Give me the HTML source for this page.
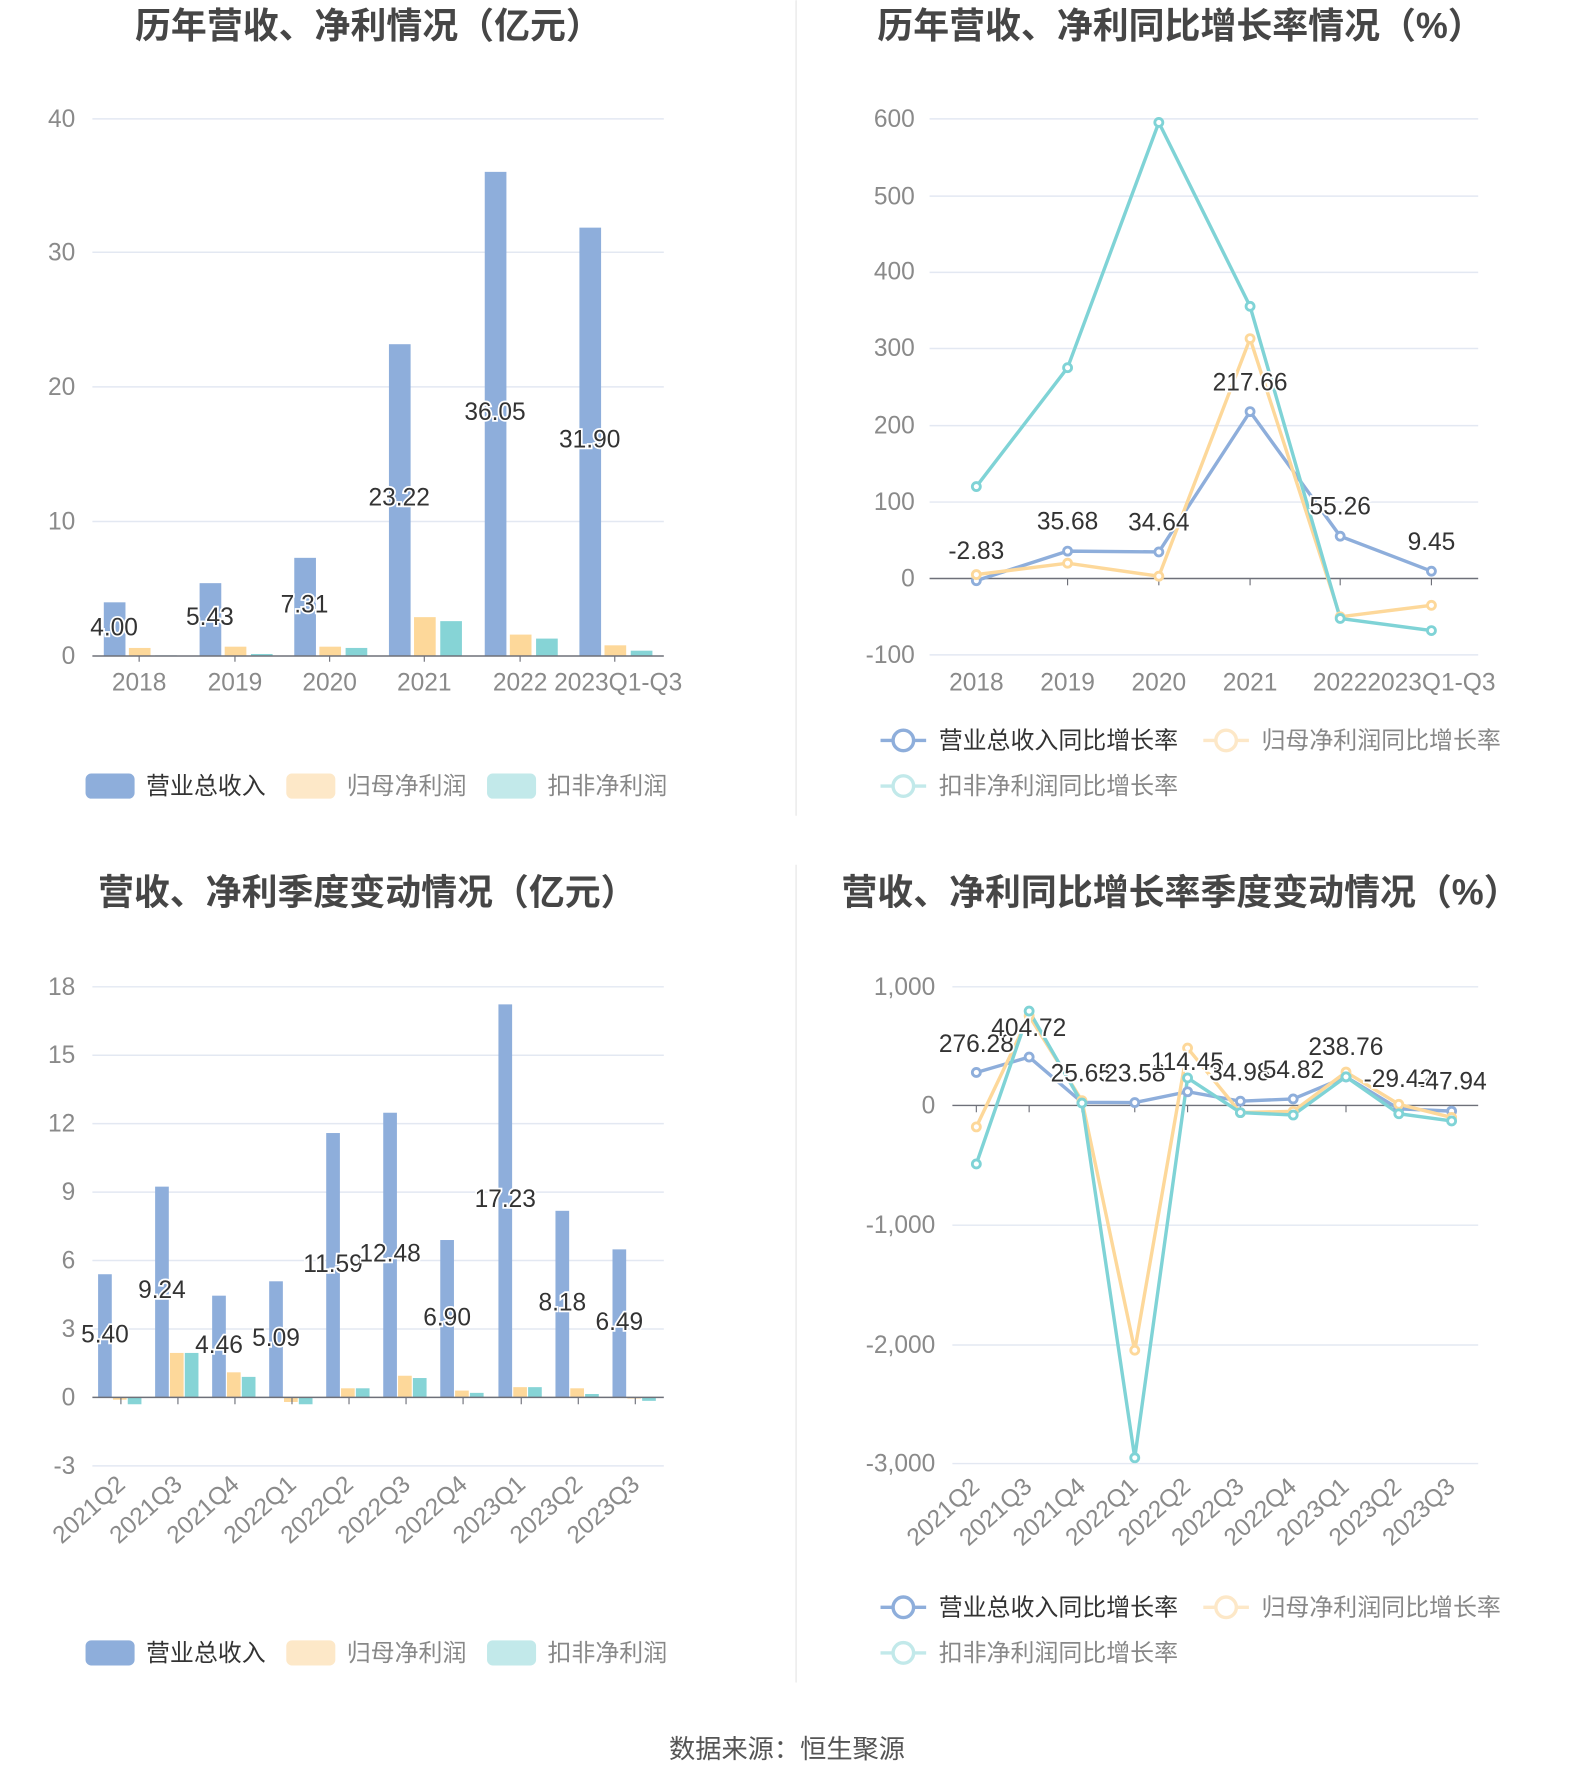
<!DOCTYPE html>
<html><head><meta charset="utf-8"><style>
html,body{margin:0;padding:0;background:#fff}
svg{display:block}
text{font-family:"Liberation Sans","Noto Sans CJK SC",sans-serif}
.t{font-size:31.5px;font-weight:bold;fill:#464646;text-anchor:middle}
.ax{font-size:21.5px;fill:#8a8a8a}
.lb{font-size:21.5px;fill:#333;text-anchor:middle;stroke:#fff;stroke-width:3px;paint-order:stroke}
.g{stroke:#e3e8f2;stroke-width:1.3}
.lg{font-size:21px}
</style></head><body>
<svg width="1574" height="1782" viewBox="0 0 1380 1562" xmlns="http://www.w3.org/2000/svg">
<line x1="698" y1="0" x2="698" y2="715" stroke="#eee" stroke-width="1.5"/>
<line x1="698" y1="758" x2="698" y2="1475" stroke="#eee" stroke-width="1.5"/>

<!-- Chart 1 -->
<text class="t" x="323" y="33">历年营收、净利情况（亿元）</text>
<g class="g"><line x1="81" y1="104" x2="582" y2="104"/><line x1="81" y1="221" x2="582" y2="221"/><line x1="81" y1="339" x2="582" y2="339"/><line x1="81" y1="457" x2="582" y2="457"/></g>
<g class="ax" text-anchor="end"><text x="66" y="111">40</text><text x="66" y="228">30</text><text x="66" y="346">20</text><text x="66" y="464">10</text><text x="66" y="582">0</text></g>
<g fill="#8eaedb"><rect x="91" y="527.9" width="19" height="47.1"/><rect x="175" y="511.1" width="19" height="63.9"/><rect x="258" y="488.9" width="19" height="86.1"/><rect x="341" y="301.6" width="19" height="273.4"/><rect x="425" y="150.5" width="19" height="424.5"/><rect x="508" y="199.4" width="19" height="375.6"/></g>
<g fill="#fdd89a"><rect x="113" y="567.9" width="19" height="7.1"/><rect x="197" y="566.8" width="19" height="8.2"/><rect x="280" y="566.8" width="19" height="8.2"/><rect x="363" y="540.9" width="19" height="34.1"/><rect x="447" y="556.2" width="19" height="18.8"/><rect x="530" y="565.6" width="19" height="9.4"/></g>
<g fill="#86d4d6"><rect x="136" y="574.4" width="19" height=".6"/><rect x="220" y="573.2" width="19" height="1.8"/><rect x="303" y="567.9" width="19" height="7.1"/><rect x="386" y="544.4" width="19" height="30.6"/><rect x="470" y="559.7" width="19" height="15.3"/><rect x="553" y="570.3" width="19" height="4.7"/></g>
<line x1="81" y1="575" x2="582" y2="575" stroke="#6e7079" stroke-width="1.3"/>
<g stroke="#6e7079"><line x1="122" y1="575" x2="122" y2="580"/><line x1="206" y1="575" x2="206" y2="580"/><line x1="289" y1="575" x2="289" y2="580"/><line x1="372" y1="575" x2="372" y2="580"/><line x1="456" y1="575" x2="456" y2="580"/><line x1="539" y1="575" x2="539" y2="580"/></g>
<g class="ax" text-anchor="middle"><text x="122" y="605">2018</text><text x="206" y="605">2019</text><text x="289" y="605">2020</text><text x="372" y="605">2021</text><text x="456" y="605">2022</text><text x="542" y="605">2023Q1-Q3</text></g>
<g class="lb"><text x="100" y="557">4.00</text><text x="184" y="548">5.43</text><text x="267" y="537">7.31</text><text x="350" y="443">23.22</text><text x="434" y="368">36.05</text><text x="517" y="392">31.90</text></g>
<g class="lg"><rect x="75" y="678" width="43" height="22" rx="5" fill="#8eaedb"/><text x="128" y="696" fill="#333">营业总收入</text><rect x="251" y="678" width="43" height="22" rx="5" fill="#fde8c8"/><text x="304" y="696" fill="#888">归母净利润</text><rect x="427" y="678" width="43" height="22" rx="5" fill="#c2e9ea"/><text x="480" y="696" fill="#888">扣非净利润</text></g>

<!-- Chart 2 -->
<text class="t" x="1035" y="33">历年营收、净利同比增长率情况（%）</text>
<g class="g"><line x1="815" y1="104" x2="1296" y2="104"/><line x1="815" y1="171.8" x2="1296" y2="171.8"/><line x1="815" y1="238.6" x2="1296" y2="238.6"/><line x1="815" y1="305.4" x2="1296" y2="305.4"/><line x1="815" y1="373" x2="1296" y2="373"/><line x1="815" y1="440" x2="1296" y2="440"/><line x1="815" y1="574" x2="1296" y2="574"/></g>
<g class="ax" text-anchor="end"><text x="802" y="111">600</text><text x="802" y="179">500</text><text x="802" y="245">400</text><text x="802" y="312">300</text><text x="802" y="380">200</text><text x="802" y="447">100</text><text x="802" y="514">0</text><text x="802" y="581">-100</text></g>
<line x1="815" y1="507" x2="1296" y2="507" stroke="#6e7079" stroke-width="1.3"/>
<g stroke="#6e7079"><line x1="856" y1="507" x2="856" y2="513"/><line x1="936" y1="507" x2="936" y2="513"/><line x1="1016" y1="507" x2="1016" y2="513"/><line x1="1096" y1="507" x2="1096" y2="513"/><line x1="1175" y1="507" x2="1175" y2="513"/><line x1="1255" y1="507" x2="1255" y2="513"/></g>
<g class="ax" text-anchor="middle"><text x="856" y="605">2018</text><text x="936" y="605">2019</text><text x="1016" y="605">2020</text><text x="1096" y="605">2021</text><text x="1175" y="605">2022</text><text x="1255" y="605">2023Q1-Q3</text></g>
<g fill="#fff" stroke-width="2.5">
<polyline fill="none" stroke="#8eaedb" stroke-width="3" points="856,508.9 936,483 1016,483.7 1096,360.7 1175,469.9 1255,500.6"/>
<polyline fill="none" stroke="#fdd89a" stroke-width="3" points="856,503.6 936,493.6 1016,505 1096,296.7 1175,540.6 1255,530.5"/>
<polyline fill="none" stroke="#7fd3d6" stroke-width="3" points="856,426.4 936,322.2 1016,107.2 1096,268.4 1175,542 1255,552.7"/>
<g stroke="#8eaedb"><circle cx="856" cy="508.9" r="3.5"/><circle cx="936" cy="483" r="3.5"/><circle cx="1016" cy="483.7" r="3.5"/><circle cx="1096" cy="360.7" r="3.5"/><circle cx="1175" cy="469.9" r="3.5"/><circle cx="1255" cy="500.6" r="3.5"/></g>
<g stroke="#fdd89a"><circle cx="856" cy="503.6" r="3.5"/><circle cx="936" cy="493.6" r="3.5"/><circle cx="1016" cy="505" r="3.5"/><circle cx="1096" cy="296.7" r="3.5"/><circle cx="1175" cy="540.6" r="3.5"/><circle cx="1255" cy="530.5" r="3.5"/></g>
<g stroke="#7fd3d6"><circle cx="856" cy="426.4" r="3.5"/><circle cx="936" cy="322.2" r="3.5"/><circle cx="1016" cy="107.2" r="3.5"/><circle cx="1096" cy="268.4" r="3.5"/><circle cx="1175" cy="542" r="3.5"/><circle cx="1255" cy="552.7" r="3.5"/></g>
</g>
<g class="lb"><text x="856" y="490">-2.83</text><text x="936" y="464">35.68</text><text x="1016" y="465">34.64</text><text x="1096" y="342">217.66</text><text x="1175" y="451">55.26</text><text x="1255" y="482">9.45</text></g>
<g class="lg">
<line x1="772" y1="649" x2="812" y2="649" stroke="#8eaedb" stroke-width="3"/><circle cx="792" cy="649" r="9" fill="#fff" stroke="#8eaedb" stroke-width="3"/><text x="823" y="656" fill="#333">营业总收入同比增长率</text>
<line x1="1055" y1="649" x2="1095" y2="649" stroke="#fde8c8" stroke-width="3"/><circle cx="1075" cy="649" r="9" fill="#fff" stroke="#fde8c8" stroke-width="3"/><text x="1106" y="656" fill="#888">归母净利润同比增长率</text>
<line x1="772" y1="689" x2="812" y2="689" stroke="#c2e9ea" stroke-width="3"/><circle cx="792" cy="689" r="9" fill="#fff" stroke="#c2e9ea" stroke-width="3"/><text x="823" y="696" fill="#888">扣非净利润同比增长率</text></g>

<!-- Chart 3 -->
<text class="t" x="322" y="793">营收、净利季度变动情况（亿元）</text>
<g class="g"><line x1="81" y1="865" x2="582" y2="865"/><line x1="81" y1="925" x2="582" y2="925"/><line x1="81" y1="985" x2="582" y2="985"/><line x1="81" y1="1045" x2="582" y2="1045"/><line x1="81" y1="1105" x2="582" y2="1105"/><line x1="81" y1="1165" x2="582" y2="1165"/><line x1="81" y1="1285" x2="582" y2="1285"/></g>
<g class="ax" text-anchor="end"><text x="66" y="872">18</text><text x="66" y="932">15</text><text x="66" y="992">12</text><text x="66" y="1052">9</text><text x="66" y="1112">6</text><text x="66" y="1172">3</text><text x="66" y="1232">0</text><text x="66" y="1292">-3</text></g>
<g fill="#8eaedb"><rect x="86" y="1117" width="12" height="108"/><rect x="136" y="1040.2" width="12" height="184.8"/><rect x="186" y="1135.8" width="12" height="89.2"/><rect x="236" y="1123.2" width="12" height="101.8"/><rect x="286" y="993.2" width="12" height="231.8"/><rect x="336" y="975.4" width="12" height="249.6"/><rect x="386" y="1087" width="12" height="138"/><rect x="437" y="880.4" width="12" height="344.6"/><rect x="487" y="1061.4" width="12" height="163.6"/><rect x="537" y="1095.2" width="12" height="129.8"/></g>
<g fill="#fdd89a"><rect x="99" y="1225" width="12" height="2"/><rect x="149" y="1186" width="12" height="39"/><rect x="199" y="1203" width="12" height="22"/><rect x="249" y="1225" width="12" height="4"/><rect x="299" y="1217" width="12" height="8"/><rect x="349" y="1206" width="12" height="19"/><rect x="399" y="1219" width="12" height="6"/><rect x="450" y="1216" width="12" height="9"/><rect x="500" y="1217" width="12" height="8"/><rect x="550" y="1225" width="12" height="1"/></g>
<g fill="#86d4d6"><rect x="112" y="1225" width="12" height="6"/><rect x="162" y="1186" width="12" height="39"/><rect x="212" y="1207" width="12" height="18"/><rect x="262" y="1225" width="12" height="6"/><rect x="312" y="1217" width="12" height="8"/><rect x="362" y="1208" width="12" height="17"/><rect x="412" y="1221" width="12" height="4"/><rect x="463" y="1216" width="12" height="9"/><rect x="513" y="1222" width="12" height="3"/><rect x="563" y="1225" width="12" height="3"/></g>
<line x1="81" y1="1225" x2="582" y2="1225" stroke="#6e7079" stroke-width="1.3"/>
<g stroke="#6e7079"><line x1="106" y1="1225" x2="106" y2="1231"/><line x1="156" y1="1225" x2="156" y2="1231"/><line x1="206" y1="1225" x2="206" y2="1231"/><line x1="256" y1="1225" x2="256" y2="1231"/><line x1="306" y1="1225" x2="306" y2="1231"/><line x1="356" y1="1225" x2="356" y2="1231"/><line x1="406" y1="1225" x2="406" y2="1231"/><line x1="457" y1="1225" x2="457" y2="1231"/><line x1="507" y1="1225" x2="507" y2="1231"/><line x1="557" y1="1225" x2="557" y2="1231"/></g>
<g class="ax" text-anchor="end">
<text transform="translate(111,1303) rotate(-42)">2021Q2</text><text transform="translate(161,1303) rotate(-42)">2021Q3</text><text transform="translate(211,1303) rotate(-42)">2021Q4</text><text transform="translate(261,1303) rotate(-42)">2022Q1</text><text transform="translate(311,1303) rotate(-42)">2022Q2</text><text transform="translate(361,1303) rotate(-42)">2022Q3</text><text transform="translate(411,1303) rotate(-42)">2022Q4</text><text transform="translate(462,1303) rotate(-42)">2023Q1</text><text transform="translate(512,1303) rotate(-42)">2023Q2</text><text transform="translate(562,1303) rotate(-42)">2023Q3</text></g>
<g class="lb"><text x="92" y="1177">5.40</text><text x="142" y="1138">9.24</text><text x="192" y="1186">4.46</text><text x="242" y="1180">5.09</text><text x="292" y="1115">11.59</text><text x="342" y="1106">12.48</text><text x="392" y="1162">6.90</text><text x="443" y="1058">17.23</text><text x="493" y="1149">8.18</text><text x="543" y="1166">6.49</text></g>
<g class="lg"><rect x="75" y="1438" width="43" height="22" rx="5" fill="#8eaedb"/><text x="128" y="1456" fill="#333">营业总收入</text><rect x="251" y="1438" width="43" height="22" rx="5" fill="#fde8c8"/><text x="304" y="1456" fill="#888">归母净利润</text><rect x="427" y="1438" width="43" height="22" rx="5" fill="#c2e9ea"/><text x="480" y="1456" fill="#888">扣非净利润</text></g>

<!-- Chart 4 -->
<text class="t" x="1035" y="793">营收、净利同比增长率季度变动情况（%）</text>
<g class="g"><line x1="835" y1="865" x2="1296" y2="865"/><line x1="835" y1="1074" x2="1296" y2="1074"/><line x1="835" y1="1179" x2="1296" y2="1179"/><line x1="835" y1="1283" x2="1296" y2="1283"/></g>
<g class="ax" text-anchor="end"><text x="820" y="872">1,000</text><text x="820" y="976">0</text><text x="820" y="1081">-1,000</text><text x="820" y="1186">-2,000</text><text x="820" y="1290">-3,000</text></g>
<line x1="835" y1="969" x2="1296" y2="969" stroke="#6e7079" stroke-width="1.3"/>
<g stroke="#6e7079"><line x1="856" y1="969" x2="856" y2="975"/><line x1="902.3" y1="969" x2="902.3" y2="975"/><line x1="948.6" y1="969" x2="948.6" y2="975"/><line x1="994.9" y1="969" x2="994.9" y2="975"/><line x1="1041.2" y1="969" x2="1041.2" y2="975"/><line x1="1087.5" y1="969" x2="1087.5" y2="975"/><line x1="1133.8" y1="969" x2="1133.8" y2="975"/><line x1="1180.1" y1="969" x2="1180.1" y2="975"/><line x1="1226.4" y1="969" x2="1226.4" y2="975"/><line x1="1272.7" y1="969" x2="1272.7" y2="975"/></g>
<g class="ax" text-anchor="end">
<text transform="translate(860,1305) rotate(-42)">2021Q2</text><text transform="translate(906,1305) rotate(-42)">2021Q3</text><text transform="translate(953,1305) rotate(-42)">2021Q4</text><text transform="translate(999,1305) rotate(-42)">2022Q1</text><text transform="translate(1045,1305) rotate(-42)">2022Q2</text><text transform="translate(1092,1305) rotate(-42)">2022Q3</text><text transform="translate(1138,1305) rotate(-42)">2022Q4</text><text transform="translate(1184,1305) rotate(-42)">2023Q1</text><text transform="translate(1230,1305) rotate(-42)">2023Q2</text><text transform="translate(1277,1305) rotate(-42)">2023Q3</text></g>
<g fill="#fff" stroke-width="2.5">
<polyline fill="none" stroke="#8eaedb" stroke-width="3" points="856,940.1 902.3,926.6 948.6,966.3 994.9,966.5 1041.2,957 1087.5,965.3 1133.8,963.3 1180.1,944 1226.4,972 1272.7,974"/>
<polyline fill="none" stroke="#fdd89a" stroke-width="3" points="856,987.8 902.3,890.5 948.6,964.8 994.9,1183.6 1041.2,918.7 1087.5,975.3 1133.8,974.2 1180.1,939.7 1226.4,968 1272.7,979.5"/>
<polyline fill="none" stroke="#7fd3d6" stroke-width="3" points="856,1020.3 902.3,886.3 948.6,966.9 994.9,1277.9 1041.2,944.9 1087.5,975.3 1133.8,977.4 1180.1,943.9 1226.4,976.3 1272.7,982.6"/>
<g stroke="#8eaedb"><circle cx="856" cy="940.1" r="3.5"/><circle cx="902.3" cy="926.6" r="3.5"/><circle cx="948.6" cy="966.3" r="3.5"/><circle cx="994.9" cy="966.5" r="3.5"/><circle cx="1041.2" cy="957" r="3.5"/><circle cx="1087.5" cy="965.3" r="3.5"/><circle cx="1133.8" cy="963.3" r="3.5"/><circle cx="1180.1" cy="944" r="3.5"/><circle cx="1226.4" cy="972" r="3.5"/><circle cx="1272.7" cy="974" r="3.5"/></g>
<g stroke="#fdd89a"><circle cx="856" cy="987.8" r="3.5"/><circle cx="902.3" cy="890.5" r="3.5"/><circle cx="948.6" cy="964.8" r="3.5"/><circle cx="994.9" cy="1183.6" r="3.5"/><circle cx="1041.2" cy="918.7" r="3.5"/><circle cx="1087.5" cy="975.3" r="3.5"/><circle cx="1133.8" cy="974.2" r="3.5"/><circle cx="1180.1" cy="939.7" r="3.5"/><circle cx="1226.4" cy="968" r="3.5"/><circle cx="1272.7" cy="979.5" r="3.5"/></g>
<g stroke="#7fd3d6"><circle cx="856" cy="1020.3" r="3.5"/><circle cx="902.3" cy="886.3" r="3.5"/><circle cx="948.6" cy="966.9" r="3.5"/><circle cx="994.9" cy="1277.9" r="3.5"/><circle cx="1041.2" cy="944.9" r="3.5"/><circle cx="1087.5" cy="975.3" r="3.5"/><circle cx="1133.8" cy="977.4" r="3.5"/><circle cx="1180.1" cy="943.9" r="3.5"/><circle cx="1226.4" cy="976.3" r="3.5"/><circle cx="1272.7" cy="982.6" r="3.5"/></g>
</g>
<g class="lb"><text x="856" y="922">276.28</text><text x="902" y="908">404.72</text><text x="948" y="948">25.65</text><text x="995" y="948">23.58</text><text x="1041" y="938">114.45</text><text x="1087" y="947">34.98</text><text x="1134" y="945">54.82</text><text x="1180" y="925">238.76</text><text x="1226" y="953">-29.42</text><text x="1273" y="955">-47.94</text></g>
<g class="lg">
<line x1="772" y1="1409" x2="812" y2="1409" stroke="#8eaedb" stroke-width="3"/><circle cx="792" cy="1409" r="9" fill="#fff" stroke="#8eaedb" stroke-width="3"/><text x="823" y="1416" fill="#333">营业总收入同比增长率</text>
<line x1="1055" y1="1409" x2="1095" y2="1409" stroke="#fde8c8" stroke-width="3"/><circle cx="1075" cy="1409" r="9" fill="#fff" stroke="#fde8c8" stroke-width="3"/><text x="1106" y="1416" fill="#888">归母净利润同比增长率</text>
<line x1="772" y1="1449" x2="812" y2="1449" stroke="#c2e9ea" stroke-width="3"/><circle cx="792" cy="1449" r="9" fill="#fff" stroke="#c2e9ea" stroke-width="3"/><text x="823" y="1456" fill="#888">扣非净利润同比增长率</text></g>

<text x="690" y="1541" text-anchor="middle" font-size="23" fill="#555">数据来源：恒生聚源</text>
</svg>
</body></html>
